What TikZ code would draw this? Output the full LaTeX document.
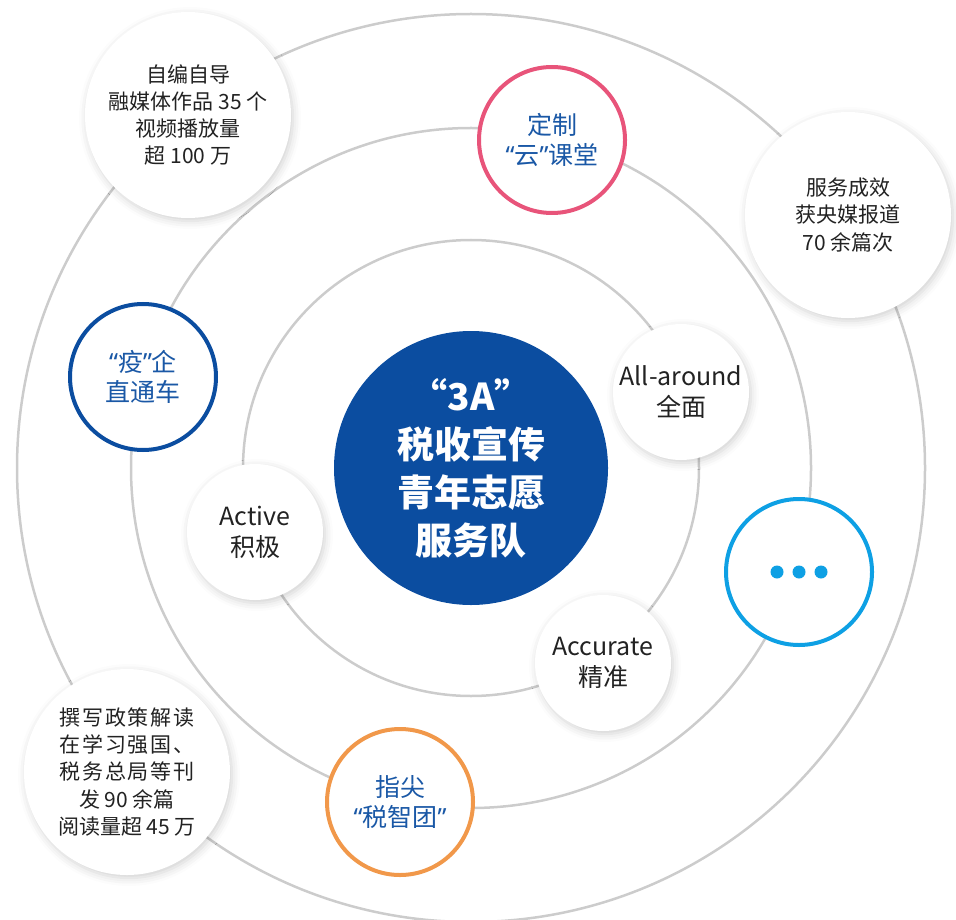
\documentclass[tikz,border=0pt]{standalone}
\usepackage{fontspec}
\setmainfont{Noto Sans CJK SC}
\newfontfamily\quotefont{Noto Sans}
\newcommand\oq{{\quotefont “}}
\newcommand\cq{{\quotefont ”}}
\newcommand\spread[1]{{\addfontfeature{LetterSpace=9}#1}}
\usetikzlibrary{calc,shadows.blur}
\definecolor{ringgray}{RGB}{204,204,204}
\definecolor{teamblue}{RGB}{11,77,160}
\definecolor{txtblue}{RGB}{26,88,166}
\definecolor{txtblack}{RGB}{34,34,34}
\definecolor{pinkline}{RGB}{232,84,122}
\definecolor{cyanline}{RGB}{14,160,228}
\definecolor{orangeline}{RGB}{241,152,74}
\tikzset{
	ring/.style={draw=ringgray,line width=1.25pt},
	bubble/.style={circle,fill=white,align=center,inner sep=0pt,text=txtblack,
		blur shadow={shadow xshift=1pt,shadow yshift=-1.5pt,shadow blur radius=4pt,shadow opacity=18}},
	bigbubble/.style={bubble,minimum size=103pt,font=\fontsize{10.5}{13.6}\selectfont},
	smallbubble/.style={bubble,minimum size=68pt,font=\fontsize{12.5}{15.5}\selectfont},
	hollow/.style={circle,draw=#1,line width=2pt,fill=white,align=center,inner sep=0pt,
		minimum size=73pt,text=txtblue,font=\fontsize{12.5}{15}\selectfont},
}
\begin{document}
\begin{tikzpicture}[x=0.5pt,y=-0.5pt]
	\useasboundingbox (0,0) rectangle (956,919);
	% centre of the rings
	\coordinate (c) at (471,468);
	
	% three grey rings
	\draw[ring] (c) circle[radius=228];
	\draw[ring] (c) circle[radius=340];
	\draw[ring] (c) circle[radius=454];
	
	% core of the team
	\node[circle,fill=teamblue,minimum size=137pt,inner sep=0pt,align=center,text=white,
		font=\fontsize{18.5}{24}\selectfont\bfseries] (team) at (c) {“3A”\\税收宣传\\青年志愿\\服务队};
	
	% inner ring: the three A
	\node[smallbubble] (around) at (681,392) {All-around\\全面};
	\node[smallbubble] (active) at (255,532) {Active\\积极};
	\node[smallbubble] (accurate) at (603,663) {Accurate\\精准};
	
	% middle ring: services
	\node[hollow=pinkline] (cloud) at (552,140) {定制\\\oq 云\cq 课堂};
	\node[hollow=teamblue] (epidemic) at (143,377) {\oq 疫\cq 企\\直通车};
	\node[hollow=orangeline] (finger) at (400,802) {指尖\\\oq 税智团\cq};
	\node[hollow=cyanline] (more) at (799,572) {};
	\foreach \dx in {-22,0,22}
		\fill[cyanline] ($(more)+(\dx,0)$) circle[radius=6.5];
	
	% outer ring: results
	\node[bigbubble] (media) at (188,115) {自编自导\\融媒体作品 35 个\\视频播放量\\超 100 万};
	\node[bigbubble] (report) at (848,215) {服务成效\\获央媒报道\\70 余篇次};
	\node[bigbubble] (policy) at (127,772) {\spread{撰写政策解读}\\\spread{在学习强国、}\\\spread{税务总局等刊}\\发 90 余篇\\阅读量超 45 万};
\end{tikzpicture}
\end{document}
